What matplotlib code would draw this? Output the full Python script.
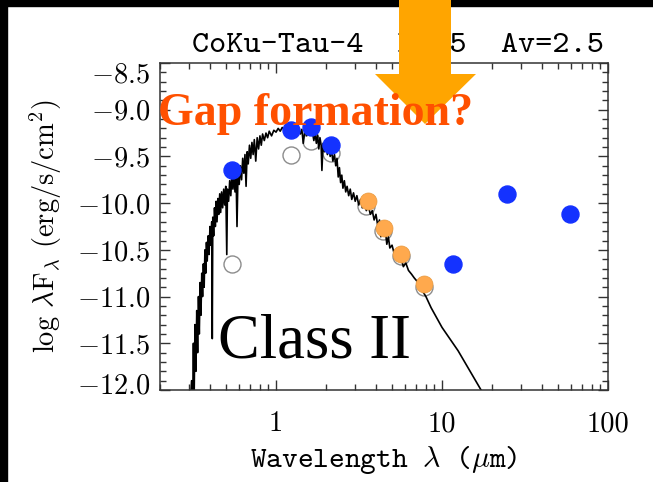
import matplotlib
matplotlib.use('Agg')
import matplotlib.pyplot as plt
from matplotlib.patches import Polygon, Rectangle
from matplotlib.transforms import ScaledTranslation
from matplotlib.ticker import MultipleLocator, FuncFormatter, NullFormatter, ScalarFormatter

plt.rcParams['font.family'] = 'cmr10'
plt.rcParams['mathtext.fontset'] = 'cm'
plt.rcParams['axes.formatter.use_mathtext'] = True
plt.rcParams['axes.unicode_minus'] = True

# observed photometry (filled blue)
obs_wl = [0.545, 1.23, 1.63, 2.15, 11.7, 24.6, 59.0]
obs_flux = [-9.64, -9.22, -9.19, -9.38, -10.65, -9.90, -10.12]

# IRAC points (orange)
irac_wl = [3.56, 4.45, 5.70, 7.80]
irac_flux = [-9.98, -10.27, -10.54, -10.87]

# open circles
open_wl = [0.545, 1.23, 1.63, 2.13, 3.50, 4.40, 5.65, 7.75]
open_flux = [-10.65, -9.48, -9.33, -9.46, -10.03, -10.30, -10.57, -10.90]

# model photosphere spectrum
spec_wl = [0.300, 0.310, 0.314, 0.318, 0.321, 0.325, 0.329, 0.333, 0.337, 0.341,
           0.345, 0.349, 0.353, 0.357, 0.361, 0.365, 0.369, 0.373, 0.377, 0.381,
           0.385, 0.390, 0.395, 0.400, 0.405, 0.410, 0.413, 0.416, 0.421, 0.426,
           0.431, 0.436, 0.441, 0.447, 0.452, 0.458, 0.464, 0.470, 0.477, 0.484,
           0.491, 0.498, 0.505, 0.510, 0.518, 0.526, 0.534, 0.542, 0.550, 0.558,
           0.566, 0.574, 0.582, 0.590, 0.600, 0.610, 0.620, 0.630, 0.640, 0.650,
           0.660, 0.670, 0.680, 0.692, 0.704, 0.716, 0.728, 0.740, 0.755, 0.770,
           0.785, 0.800, 0.815, 0.830, 0.850, 0.870, 0.890, 0.910, 0.940, 0.970,
           1.00, 1.03, 1.06, 1.09, 1.13, 1.17, 1.21, 1.26, 1.31, 1.36,
           1.40, 1.43, 1.46, 1.49, 1.53, 1.57, 1.61, 1.65, 1.69, 1.72,
           1.75, 1.78, 1.81, 1.84, 1.87, 1.89, 1.92, 1.96, 2.00, 2.04,
           2.08, 2.12, 2.16, 2.20, 2.25, 2.29, 2.33, 2.37, 2.41, 2.45,
           2.49, 2.53, 2.58, 2.63, 2.68, 2.74, 2.80, 2.86, 2.93, 3.00,
           3.07, 3.15, 3.23, 3.31, 3.40, 3.50, 3.60, 3.70, 3.80, 3.90,
           4.00, 4.10, 4.20, 4.28, 4.36, 4.45, 4.55, 4.65, 4.75, 4.85,
           5.00, 5.15, 5.30, 5.47, 5.65, 5.85, 6.05, 6.28, 6.55, 6.80,
           7.10, 7.50, 8.00, 8.60, 10.0, 12.5, 17.2, 20.0]
spec_flux = [-12.4, -11.9, -12.3, -11.5, -12.1, -11.3, -11.8, -11.15, -11.6, -11.0,
             -11.4, -10.85, -11.2, -10.75, -11.0, -10.65, -10.9, -10.5, -10.75, -10.42,
             -10.62, -10.35, -10.55, -10.25, -10.45, -10.2, -11.45, -10.15, -10.35, -10.05,
             -10.25, -9.98, -10.2, -9.95, -10.12, -9.9, -10.1, -9.88, -10.05, -9.85,
             -10.02, -9.82, -10.55, -9.85, -9.98, -9.76, -9.92, -9.70, -9.85, -9.68,
             -9.88, -9.65, -10.25, -9.68, -9.80, -9.60, -9.75, -9.52, -9.68, -9.48,
             -9.82, -9.45, -9.58, -9.38, -9.52, -9.35, -9.48, -9.32, -9.55, -9.30,
             -9.42, -9.28, -9.38, -9.26, -9.33, -9.25, -9.30, -9.23, -9.28, -9.22,
             -9.24, -9.20, -9.23, -9.19, -9.22, -9.19, -9.21, -9.19, -9.22, -9.20,
             -9.26, -9.21, -9.36, -9.22, -9.28, -9.21, -9.27, -9.22, -9.33, -9.25,
             -9.36, -9.27, -9.42, -9.30, -9.38, -9.65, -9.36, -9.45, -9.38, -9.48,
             -9.41, -9.50, -9.43, -9.55, -9.48, -9.60, -9.52, -9.72, -9.62, -9.78,
             -9.70, -9.84, -9.76, -9.88, -9.82, -9.92, -9.85, -9.96, -9.89, -9.98,
             -9.92, -10.02, -9.96, -10.05, -9.99, -10.08, -10.03, -10.12, -10.08, -10.18,
             -10.12, -10.24, -10.18, -10.36, -10.25, -10.33, -10.28, -10.44, -10.36, -10.48,
             -10.45, -10.54, -10.50, -10.60, -10.58, -10.68, -10.64, -10.72, -10.76, -10.80,
             -10.84, -10.92, -11.00, -11.12, -11.33, -11.58, -12.0, -12.2]

W, H = 653, 482
fig = plt.figure(figsize=(W / 100, H / 100), dpi=100)
ax = fig.add_axes([160 / W, 1 - 390 / H, 448 / W, 327 / H])

ax.scatter(open_wl, open_flux, s=150, facecolor='white', edgecolor='#8c8c8c', linewidth=1, zorder=1)
ax.plot(spec_wl, spec_flux, color='black', lw=1.2, zorder=2)
ax.scatter(irac_wl, irac_flux, s=150, color='#ffa94d', edgecolor='#e89a40', linewidth=0.5, zorder=3)
ax.scatter(obs_wl, obs_flux, s=150, color='#1432ff', zorder=4)

ax.set_xscale('log')
ax.set_xlim(0.2, 100)
ax.set_ylim(-12.0, -8.5)
ax.xaxis.set_major_formatter(FuncFormatter(lambda v, p: '%g' % v))
ax.xaxis.set_minor_formatter(NullFormatter())
ax.yaxis.set_major_locator(MultipleLocator(0.5))
ax.yaxis.set_minor_locator(MultipleLocator(0.1))
ax.yaxis.set_major_formatter(ScalarFormatter(useMathText=True))
ax.tick_params(which='both', direction='in', top=True, right=True, color='#333333', width=1)
ax.tick_params(which='major', length=7, labelsize=20.5)
ax.tick_params(which='minor', length=4)
ax.tick_params(axis='x', pad=15)
ax.tick_params(axis='y', pad=7)
for s in ax.spines.values():
    s.set_color('#333333')
    s.set_linewidth(1.1)

ax.set_xlabel(r'Wavelength $\lambda$ ($\mu$m)', family='cmtt10', fontsize=21.5, labelpad=5)
ax.set_ylabel(r'log $\lambda$F$_\lambda$ (erg/s/cm$^2$)', fontsize=20.5)
ax.yaxis.set_label_coords(-0.215, 0.5)

fig.text(192 / W, 1 - 52 / H, 'CoKu-Tau-4  M1.5  Av=2.5', family='cmtt10', fontsize=23.5, va='baseline')

# black frame strips
fig.add_artist(Rectangle((0, 0), 7 / W, 1, transform=fig.transFigure, color='black', zorder=4))
fig.add_artist(Rectangle((0, 1 - 5.5 / H), 1, 5.5 / H, transform=fig.transFigure, color='black', zorder=4))

# arrow
arr = [(399, 0), (451, 0), (451, 74), (476, 74), (425, 124), (375, 74), (399, 74)]
fig.add_artist(Polygon([(x / W, 1 - y / H) for x, y in arr], closed=True, transform=fig.transFigure,
                       facecolor='#ffa500', edgecolor='none', zorder=5))

fig.text(158 / W, 1 - 125 / H, 'Gap formation?', family='Liberation Serif', weight='bold',
         fontsize=33, color='#ff5000', va='baseline', zorder=6)
fig.text(218 / W, 1 - 357 / H, 'Class II', family='Liberation Serif', fontsize=45,
         color='black', va='baseline', zorder=6)

# end labels sit inside the axis range, as in the original
fig.canvas.draw()
for lbl in ax.get_yticklabels():
    yv = lbl.get_position()[1]
    if abs(yv + 8.5) < 1e-6:
        lbl.set_transform(lbl.get_transform() + ScaledTranslation(0, -0.09, fig.dpi_scale_trans))
    elif abs(yv + 12.0) < 1e-6:
        lbl.set_transform(lbl.get_transform() + ScaledTranslation(0, 0.07, fig.dpi_scale_trans))

fig.savefig('out.png', dpi=100)
